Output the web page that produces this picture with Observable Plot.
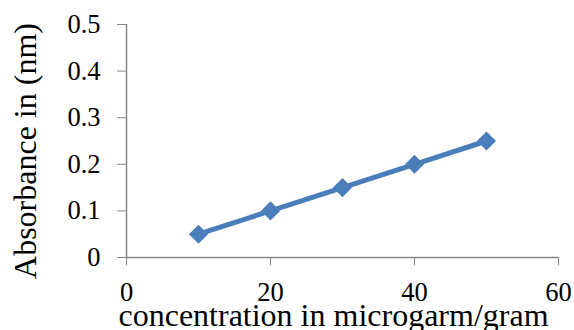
<!DOCTYPE html>
<html>
<head>
<meta charset="utf-8">
<script src="https://cdn.jsdelivr.net/npm/d3@7"></script>
<script src="https://cdn.jsdelivr.net/npm/@observablehq/plot@0.6"></script>
<style>
  html, body { margin: 0; padding: 0; background: #fff; }
  #chart svg { display: block; }
  #chart svg text { font-family: 'Liberation Serif', 'Times New Roman', serif !important; }
</style>
</head>
<body>
<div id="chart"></div>
<script>
// Calibration series: absorbance against concentration
const concentration = [10, 20, 30, 40, 50];
const absorbance = [0.05, 0.10, 0.15, 0.20, 0.25];
const xTicks = [0, 20, 40, 60];
const yTicks = [0, 0.1, 0.2, 0.3, 0.4, 0.5];
const xTitle = "concentration in microgarm/gram";
const yTitle = "Absorbance in (nm)";

const points = concentration.map((c, i) => ({c, a: absorbance[i]}));

const serif = "'Liberation Serif', 'Times New Roman', serif";
const axisGray = "#868686";
const blue = "#4A7EBB";

const chart = Plot.plot({
  width: 574,
  height: 330,
  marginLeft: 126,
  marginRight: 16,
  marginTop: 24,
  marginBottom: 73,
  style: {fontFamily: serif, background: "#fff", overflow: "visible"},
  x: {domain: [0, 60]},
  y: {domain: [0, 0.5]},
  marks: [
    Plot.axisX(xTicks, {
      tickSize: 8, tickPadding: 17, stroke: axisGray, fill: "#000",
      fontSize: 26.5, fontFamily: serif, fontVariant: "normal",
      label: null, tickFormat: d => String(d)
    }),
    Plot.axisY(yTicks, {
      tickSize: 9, tickPadding: 17, stroke: axisGray, fill: "#000",
      fontSize: 26.5, fontFamily: serif, fontVariant: "normal",
      label: null, tickFormat: d => String(d)
    }),
    Plot.ruleX([0], {stroke: axisGray, strokeWidth: 1.5}),
    Plot.ruleY([0], {stroke: axisGray, strokeWidth: 1.5}),
    Plot.line(points, {x: "c", y: "a", stroke: blue, strokeWidth: 5}),
    Plot.dot(points, {x: "c", y: "a", symbol: "diamond2", r: 8.6, fill: blue, stroke: "none"}),
    Plot.text([xTitle], {
      frameAnchor: "bottom", textAnchor: "middle", lineAnchor: "bottom",
      dx: -9, dy: 68, fontSize: 32, fontFamily: serif, fill: "#000"
    }),
    Plot.text([yTitle], {
      frameAnchor: "left", textAnchor: "middle", lineAnchor: "middle", rotate: -90,
      dx: -101, dy: 10, fontSize: 32, fontFamily: serif, fill: "#000"
    })
  ]
});

document.getElementById("chart").appendChild(chart);
</script>
</body>
</html>
